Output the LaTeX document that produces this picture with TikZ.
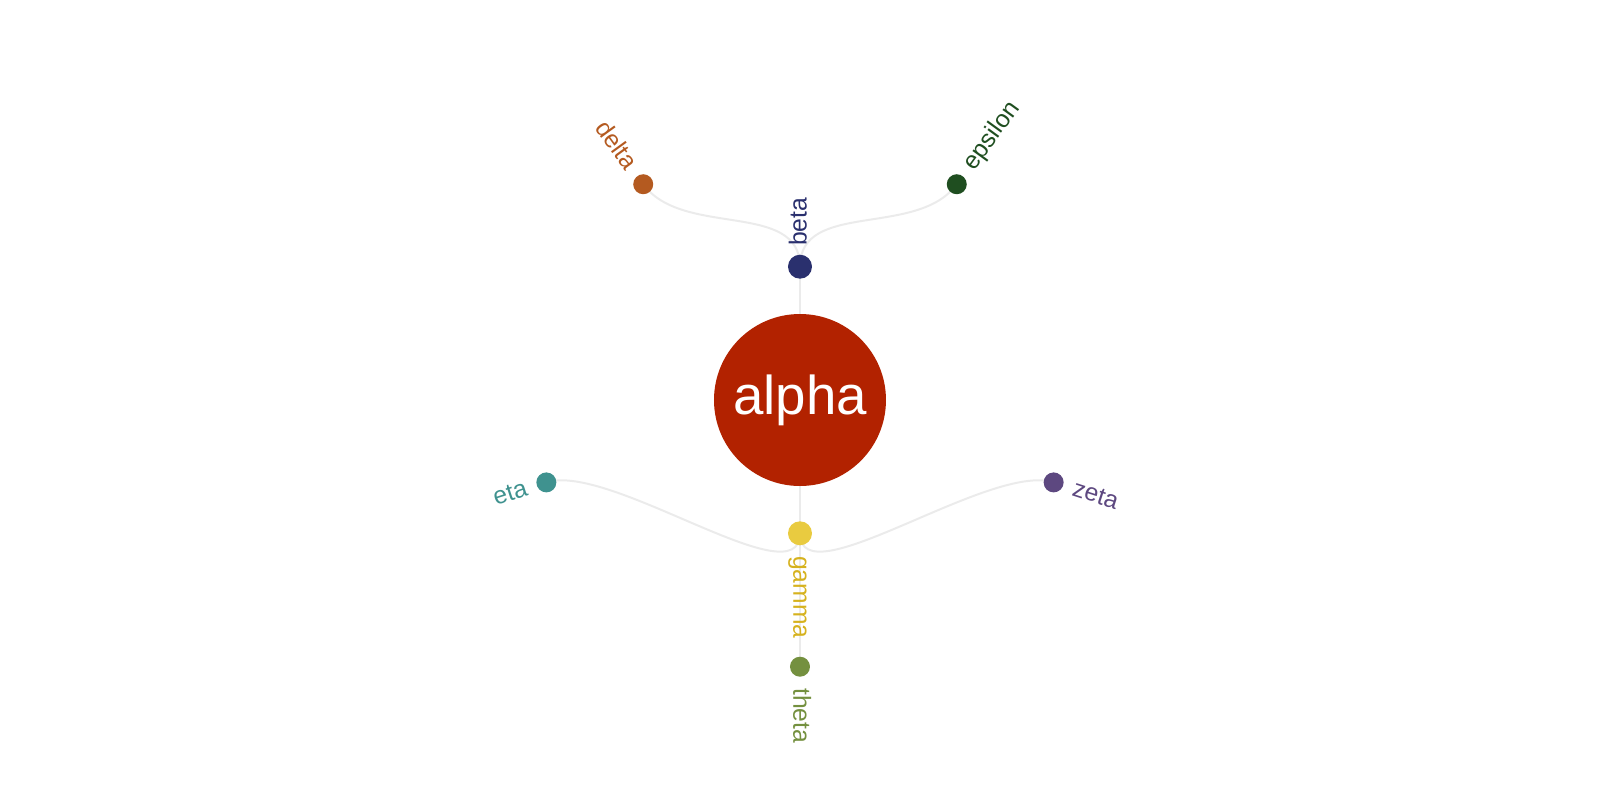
\documentclass[tikz,border=0pt]{standalone}
\usepackage{fontspec}
\setmainfont{Liberation Sans}
\usetikzlibrary{positioning}
\usetikzlibrary{backgrounds}

\definecolor{cAlpha}{HTML}{B22200}
\definecolor{cBeta}{HTML}{2A306E}
\definecolor{cGamma}{HTML}{E9CB40}
\definecolor{cGammaTxt}{HTML}{D6B21E}
\definecolor{cDelta}{HTML}{B45A20}
\definecolor{cEpsilon}{HTML}{1F4E20}
\definecolor{cZeta}{HTML}{5D4880}
\definecolor{cEta}{HTML}{3F928F}
\definecolor{cTheta}{HTML}{74903F}
\definecolor{cLink}{HTML}{EBEBEB}

\tikzset{
  dot/.style={circle, inner sep=0pt, minimum size=15pt},
  hub/.style={circle, inner sep=0pt, minimum size=18pt},
  % baseline sits half an em below the radial line
  lbl/.style={inner sep=0pt, text height=1em, text depth=0pt,
              font=\fontsize{18.5}{22}\selectfont},
  link/.style={draw=cLink, line width=1.5pt},
}

\begin{document}
\begin{tikzpicture}[x=0.75pt, y=0.75pt]
\useasboundingbox (-800,-400) rectangle (800,400);

% root and first ring (r = 133), leaves on outer ring (r = 267)
\node[circle, inner sep=0pt, minimum size=129pt, fill=cAlpha, text=white,
      font=\fontsize{41}{48}\selectfont](alpha) at (0,0){alpha};
\node[hub, fill=cBeta](beta) at (90:133.3){};
\node[hub, fill=cGamma](gamma) at (-90:133.3){};
\node[dot, fill=cDelta](delta) at (126:266.7){};
\node[dot, fill=cEpsilon](epsilon) at (54:266.7){};
\node[dot, fill=cZeta](zeta) at (-18:266.7){};
\node[dot, fill=cTheta](theta) at (-90:266.7){};
\node[dot, fill=cEta](eta) at (198:266.7){};

% labels
\node[lbl, text=cBeta, rotate=90, anchor=west](betaL) at (90:154){beta};
\node[lbl, text=cGammaTxt, rotate=-90, anchor=west](gammaL) at (-90:156){gamma};
\node[lbl, text=cDelta, rotate=-54, anchor=east](deltaL) at (126:287){delta};
\node[lbl, text=cEpsilon, rotate=54, anchor=west](epsilonL) at (54:287){epsilon};
\node[lbl, text=cZeta, rotate=-18, anchor=west](zetaL) at (-18:287){zeta};
\node[lbl, text=cTheta, rotate=-90, anchor=west](thetaL) at (-90:288){theta};
\node[lbl, text=cEta, rotate=18, anchor=east](etaL) at (198:287){eta};

\begin{scope}[on background layer]
\path[link] (alpha.center) -- (beta.center);
\path[link] (alpha.center) -- (gamma.center);
\path[link] (gamma.center) -- (theta.center);
\path[link] (beta.center) .. controls (90:200) and (126:200) .. (delta.center);
\path[link] (beta.center) .. controls (90:200) and (54:200) .. (epsilon.center);
\path[link] (gamma.center) .. controls (-90:200) and (-18:200) .. (zeta.center);
\path[link] (gamma.center) .. controls (-90:200) and (198:200) .. (eta.center);
\end{scope}
\end{tikzpicture}
\end{document}
